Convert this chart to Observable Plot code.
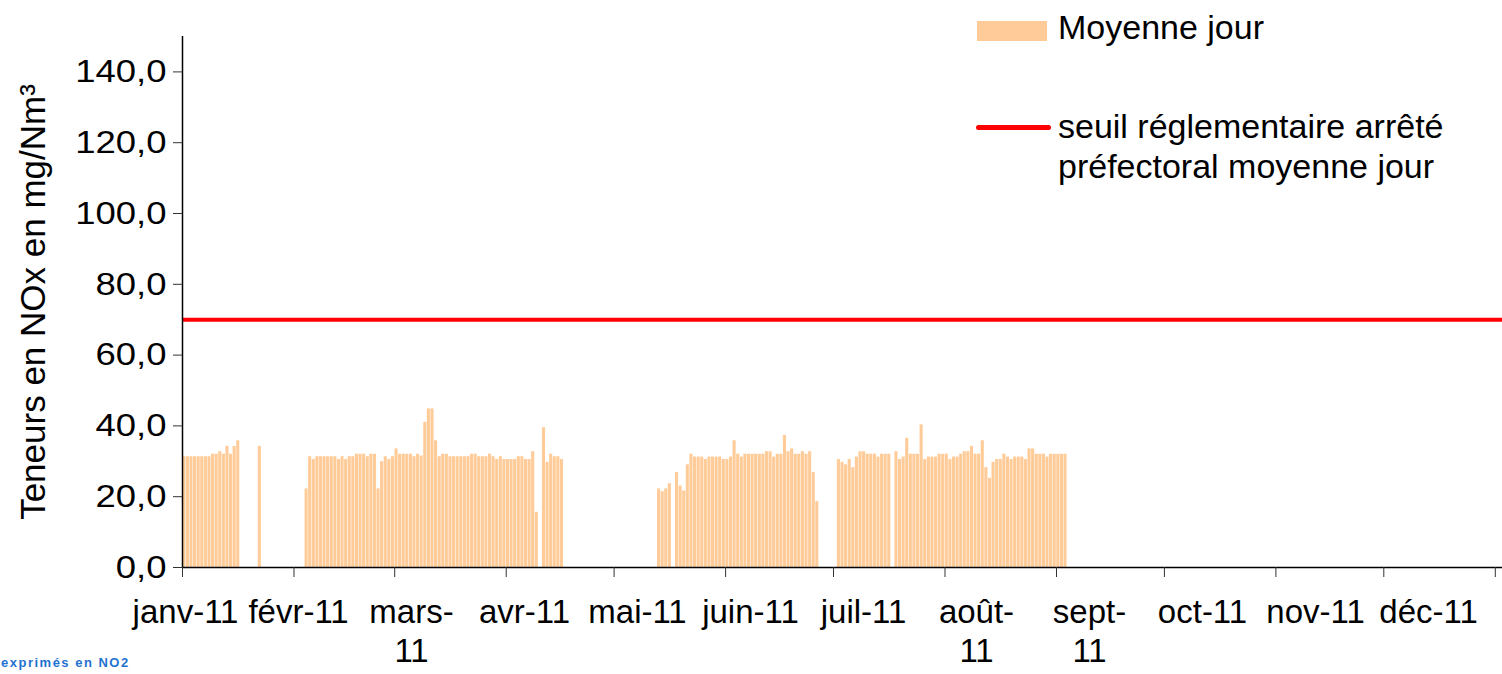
<!DOCTYPE html>
<html>
<head>
<meta charset="utf-8">
<script src="https://cdn.jsdelivr.net/npm/d3@7"></script>
<script src="https://cdn.jsdelivr.net/npm/@observablehq/plot@0.6"></script>
<style>
  body { margin: 0; background: #fff; }
  #wrap { position: relative; width: 1502px; height: 674px; overflow: hidden; font-family: "Liberation Sans", Arial, sans-serif; background: #fff; }
  #wrap svg { position: absolute; left: 0; }
  .leg { position: absolute; color: #000; font-size: 34px; white-space: nowrap; }
</style>
</head>
<body>
<div id="wrap"></div>
<script>
// ---- data ----
const janStart = "2011-01-01";
const janValues = [31.3, 31.3, 31.3, 31.3, 31.3, 31.3, 31.3, 31.3, 32.0, 32.0, 32.7, 32.0, 34.2, 32.0, 34.2, 35.8];
const lateJanStart = "2011-01-22";
const lateJanValues = [34.2];
const febAprStart = "2011-02-04";
const febAprValues = [22.2, 31.3, 30.5, 31.3, 31.3, 31.3, 31.3, 31.3, 31.3, 30.5, 31.3, 30.5, 31.3, 31.3, 32.0, 32.0, 32.0, 31.3, 32.0, 32.0, 22.2, 29.9, 31.3, 30.5, 31.3, 33.5, 32.0,
  32.0, 32.0, 32.0, 31.3, 32.0, 31.5, 41.0, 44.8, 44.8, 35.8, 31.3, 32.0, 32.0, 31.3, 31.3, 31.3, 31.3, 31.3, 31.3, 32.0, 32.0, 31.3, 31.3, 31.3, 32.0, 31.3, 30.5, 31.3, 30.5, 30.5, 30.5, 30.5, 31.3, 31.3, 30.5, 30.5, 32.7, 15.6, null, 39.5, 29.7, 32.0, 31.3, 31.3, 30.5];
const mayJunStart = "2011-05-13";
const mayJunValues = [22.2, 21.4, 22.2, 23.7, null, 26.8, 23.0, 21.6, 29.0, 32.0, 31.2, 31.2, 31.2, 30.5, 31.2, 31.2, 31.2, 31.2, 30.5, 30.5, 31.2, 35.8, 32.0, 31.2, 32.0, 32.0, 32.0, 32.0, 32.0, 32.0, 32.7, 32.7, 31.2, 32.0, 32.0, 37.3, 32.7, 33.5, 32.0, 32.0, 32.7, 32.0, 32.7, 26.8, 18.6];
const julAugStart = "2011-07-02";
const julAugValues = [30.5, 29.7, 29.0, 30.5, 28.2, 31.2, 32.7, 32.7, 32.0, 32.0, 32.0, 31.2, 32.0, 32.0, 32.0, null, 32.7, 30.5, 31.2, 36.5, 32.0, 32.0, 32.0, 40.3, 30.5, 31.2, 31.2, 31.2, 32.0, 32.0, 32.0, 30.5, 31.2, 31.2, 32.0, 32.7, 32.7, 34.2, 32.0, 32.0, 35.8, 28.2, 25.2, 29.7, 30.5, 30.5, 32.0, 31.2, 30.5, 31.2, 31.2, 31.2, 30.5, 33.5, 33.5, 32.0, 32.0, 32.0, 31.2, 32.0, 32.0, 32.0, 32.0, 32.0];
const threshold = 70;
const yTicks = [0, 20, 40, 60, 80, 100, 120, 140];
const monthTickLabels = ["janv-11", "févr-11", "mars-\n11", "avr-11", "mai-11", "juin-11", "juil-11", "août-\n11", "sept-\n11", "oct-11", "nov-11", "déc-11"];
const yLabel = "Teneurs en NOx en mg/Nm³";
const barLabel = "Moyenne jour";
const ruleLabel = ["seuil réglementaire arrêté", "préfectoral moyenne jour"];
const footNote = "exprimés en NO2";

// ---- build table ----
function run(start, values) {
  const s = new Date(start + "T00:00:00Z");
  return values.map((v, i) => ({date: d3.utcDay.offset(s, i), value: v})).filter(d => d.value != null);
}
const data = [
  ...run(janStart, janValues),
  ...run(lateJanStart, lateJanValues),
  ...run(febAprStart, febAprValues),
  ...run(mayJunStart, mayJunValues),
  ...run(julAugStart, julAugValues)
];
const xDomain = [new Date(Date.UTC(2011, 0, 1)), new Date(Date.UTC(2012, 0, 3))];
const monthTicks = d3.utcMonths(xDomain[0], new Date(Date.UTC(2012, 0, 2)));
const font = "'Liberation Sans', Arial, sans-serif";
const barColor = "#FFCC99";

const main = Plot.plot({
  width: 1502, height: 674,
  marginLeft: 182, marginRight: 0, marginTop: 36, marginBottom: 107,
  style: {fontFamily: font, fontSize: "32px", background: "transparent", color: "#000"},
  x: {type: "utc", domain: xDomain},
  y: {domain: [0, 150]},
  marks: [
    Plot.rectY(data, {x: "date", y: "value", interval: "day", fill: barColor, insetLeft: 0.25, insetRight: 0.25}),
    Plot.ruleY([threshold], {stroke: "#ff0000", strokeWidth: 4}),
    Plot.ruleY([0], {stroke: "#000", strokeWidth: 1.5}),
    Plot.ruleX([xDomain[0]], {stroke: "#000", strokeWidth: 1.5}),
    Plot.axisY({ticks: yTicks, tickFormat: d => d.toFixed(1).replace(".", ","), tickSize: 9, tickPadding: 7,
      label: null, fontSize: 32, stroke: "#333"}),
    Plot.text([yLabel], {frameAnchor: "left", rotate: -90, dx: -162, lineAnchor: "top", textAnchor: "middle", fontSize: 35, fill: "#000"}),
    Plot.axisX({ticks: monthTicks, tickFormat: () => "", tickSize: 10, label: null, stroke: "#333"})
  ]
});
main.style.top = "0px";
// the reference's tick numbers are drawn slightly wider than the font's normal shape
d3.select(main).selectAll('g[aria-label="y-axis tick label"] text')
  .attr("transform", function() { return (this.getAttribute("transform") || "") + " scale(1.14,1)"; });

const labels = Plot.plot({
  width: 1502, height: 107,
  marginLeft: 185, marginRight: 74, marginTop: 0, marginBottom: 106,
  style: {fontFamily: font, fontSize: "33px", background: "transparent", color: "#000"},
  x: {type: "point", domain: monthTickLabels, padding: 0, axis: null},
  marks: [
    Plot.text(monthTickLabels, {x: d => d, frameAnchor: "top", lineAnchor: "top", dy: 27, lineHeight: 1.2, fontSize: 33, fill: "#000"})
  ]
});
labels.style.top = "567px";

const wrap = document.getElementById("wrap");
wrap.appendChild(main);
wrap.appendChild(labels);

function div(style, text) {
  const d = document.createElement("div");
  Object.assign(d.style, style);
  if (text != null) d.textContent = text;
  wrap.appendChild(d);
  return d;
}
// legend
div({position: "absolute", left: "977px", top: "21px", width: "70px", height: "20px", background: barColor});
const t1 = div({left: "1058px", top: "10px", lineHeight: "34px"}, barLabel); t1.className = "leg";
div({position: "absolute", left: "976px", top: "125px", width: "75px", height: "5px", borderRadius: "3px", background: "#ff0000"});
const t2 = div({left: "1058px", top: "106px", lineHeight: "40px"}); t2.className = "leg";
t2.innerHTML = ruleLabel.join("<br>");
// footnote fragment
div({position: "absolute", left: "1px", top: "655px", fontSize: "13px", lineHeight: "16px", fontWeight: "bold", letterSpacing: "1.5px", color: "#1f72d0", whiteSpace: "nowrap"}, footNote);
</script>
</body>
</html>
